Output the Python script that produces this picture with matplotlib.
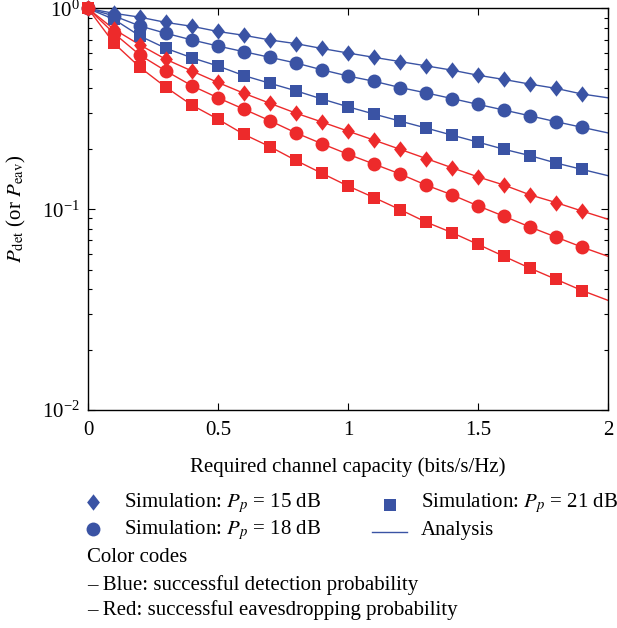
import numpy as np
import matplotlib
matplotlib.use("Agg")
import matplotlib.pyplot as plt
from matplotlib.lines import Line2D
from matplotlib.path import Path
from matplotlib.ticker import LogLocator, NullFormatter

plt.rcParams['font.family'] = ['Liberation Serif', 'DejaVu Serif']
plt.rcParams['mathtext.fontset'] = 'stix'

# data
cap = [0.0, 0.1, 0.2, 0.3, 0.4, 0.5, 0.6, 0.7, 0.8, 0.9,
       1.0, 1.1, 1.2, 1.3, 1.4, 1.5, 1.6, 1.7, 1.8, 1.9]
cap_end = 2.0

# blue: successful detection probability
det_15 = [1.0, 0.946, 0.905, 0.852, 0.815, 0.768, 0.735, 0.697, 0.668, 0.632,
          0.600, 0.571, 0.544, 0.518, 0.493, 0.465, 0.443, 0.420, 0.400, 0.375]
det_18 = [1.0, 0.918, 0.818, 0.752, 0.697, 0.650, 0.609, 0.571, 0.535, 0.495,
          0.461, 0.434, 0.404, 0.380, 0.356, 0.333, 0.312, 0.292, 0.273, 0.256]
det_21 = [1.0, 0.883, 0.729, 0.633, 0.568, 0.517, 0.463, 0.424, 0.389, 0.354,
          0.324, 0.298, 0.275, 0.254, 0.234, 0.216, 0.199, 0.185, 0.170, 0.158]
# red: successful eavesdropping probability
eav_15 = [1.0, 0.788, 0.658, 0.558, 0.488, 0.428, 0.378, 0.337, 0.301, 0.272,
          0.245, 0.221, 0.199, 0.179, 0.161, 0.145, 0.132, 0.118, 0.108, 0.098]
eav_18 = [1.0, 0.752, 0.586, 0.488, 0.412, 0.359, 0.315, 0.276, 0.240, 0.212,
          0.188, 0.168, 0.150, 0.132, 0.118, 0.104, 0.0923, 0.0816, 0.0727, 0.0648]
eav_21 = [1.0, 0.671, 0.509, 0.405, 0.330, 0.281, 0.236, 0.205, 0.175, 0.151,
          0.1306, 0.1144, 0.0997, 0.0864, 0.0765, 0.0669, 0.0583, 0.0509, 0.0448, 0.0394]
# analysis values at capacity = 2
end_vals = {'det_15': 0.359, 'det_18': 0.240, 'det_21': 0.147,
            'eav_15': 0.0892, 'eav_18': 0.0583, 'eav_21': 0.0352}

blue = '#3A53A4'
red = '#ED2A2B'

diamond = Path([(0, 1), (0.78, 0), (0, -1), (-0.78, 0), (0, 1)],
               [Path.MOVETO, Path.LINETO, Path.LINETO, Path.LINETO, Path.CLOSEPOLY])
marker_style = {'15': (diamond, 11.8), '18': ('o', 10.0), '21': ('s', 8.3)}

series = [
    ('det_15', det_15, blue, '15'),
    ('det_18', det_18, blue, '18'),
    ('det_21', det_21, blue, '21'),
    ('eav_15', eav_15, red, '15'),
    ('eav_21', eav_21, red, '21'),
    ('eav_18', eav_18, red, '18'),
]

fig = plt.figure(figsize=(6.17, 6.28), dpi=100)
ax = fig.add_axes([0.1426, 0.347, 0.8428, 0.6395])

for name, vals, col, pp in series:
    ax.plot(cap + [cap_end], vals + [end_vals[name]], color=col, lw=1.0, zorder=2)
for name, vals, col, pp in series:
    m, ms = marker_style[pp]
    ax.plot(cap, vals, linestyle='none', marker=m, markersize=ms,
            color=col, markeredgewidth=0, zorder=3, clip_on=False)

ax.set_yscale('log')
ax.set_xlim(0, 2)
ax.set_ylim(1e-2, 1)
ax.set_xticks([0, 0.5, 1, 1.5, 2])
ax.set_xticklabels(['0', '0.5', '1', '1.5', '2'])
ax.yaxis.set_minor_locator(LogLocator(base=10, subs=np.arange(2, 10)))
ax.yaxis.set_minor_formatter(NullFormatter())
ax.tick_params(which='both', direction='in', top=True, right=True, labelsize=15)
ax.tick_params(axis='x', pad=8)
ax.tick_params(axis='y', pad=6)
ax.tick_params(which='major', length=5, width=0.8)
ax.tick_params(which='minor', length=3, width=0.8)
for s in ax.spines.values():
    s.set_linewidth(1.0)

ax.set_xlabel('Required channel capacity (bits/s/Hz)', fontsize=15, labelpad=12)
ax.set_ylabel(r'$P_{\mathrm{det}}$ (or $P_{\mathrm{eav}}$)', fontsize=15, labelpad=10)

# legend below the axes
W, H = 617.0, 628.0
def fx(px):
    return px / W
def fy(py):
    return 1 - py / H

fs = 15
leg = [
    (93.3, 502, 124, 503, diamond, 11.8, r'Simulation: $P_p$ = 15 dB'),
    (93.3, 529, 124, 530, 'o', 10.0, r'Simulation: $P_p$ = 18 dB'),
    (390, 505, 421, 503, 's', 8.3, r'Simulation: $P_p$ = 21 dB'),
]
for mx, my, tx, ty, m, ms, label in leg:
    fig.add_artist(Line2D([fx(mx)], [fy(my)], transform=fig.transFigure,
                          marker=m, markersize=ms, color=blue, markeredgewidth=0,
                          linestyle='none'))
    fig.text(fx(tx), fy(ty), label, fontsize=fs, va='center', ha='left')
fig.add_artist(Line2D([fx(372), fx(407)], [fy(531.5), fy(531.5)], transform=fig.transFigure,
                      color=blue, lw=1.0))
fig.text(fx(421), fy(530), 'Analysis', fontsize=fs, va='center', ha='left')
fig.text(fx(87), fy(558), 'Color codes', fontsize=fs, va='center', ha='left')
fig.text(fx(87), fy(585), '\u2013 Blue: successful detection probability', fontsize=fs,
         va='center', ha='left')
fig.text(fx(87), fy(610), '\u2013 Red: successful eavesdropping probability', fontsize=fs,
         va='center', ha='left')

fig.savefig('out.png', dpi=100)
